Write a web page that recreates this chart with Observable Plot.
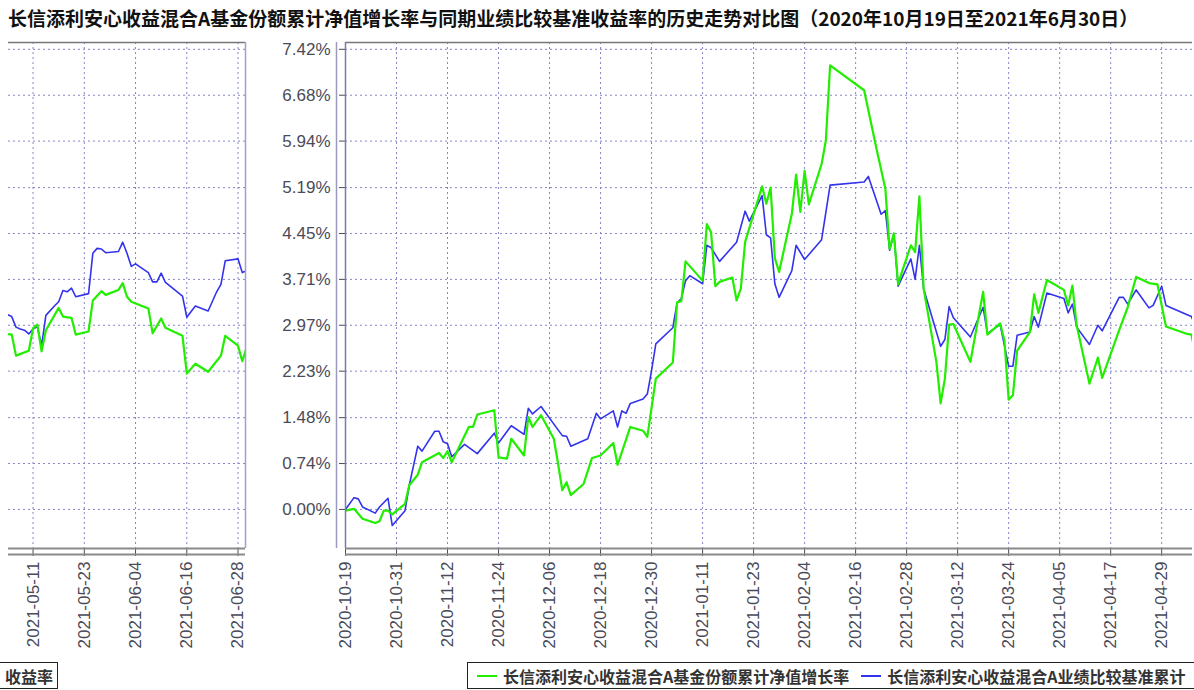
<!DOCTYPE html>
<html><head><meta charset="utf-8">
<script src="https://cdn.jsdelivr.net/npm/d3@7"></script>
<script src="https://cdn.jsdelivr.net/npm/@observablehq/plot@0.6"></script>
<style>
html,body{margin:0;padding:0;background:#fff;overflow:hidden;width:1194px;height:690px;}
#page{position:relative;width:1194px;height:690px;overflow:hidden;background:#fff;}
#title{position:absolute;left:8px;top:4px;white-space:nowrap;font:bold 19px "Noto Sans CJK SC";color:#111;}
#left{position:absolute;left:0;top:36px;}
#right{position:absolute;left:270px;top:36px;}
.legend{position:absolute;top:662px;height:27px;border:1.5px solid #222;box-sizing:border-box;font:bold 16px "Noto Sans CJK SC";color:#333;white-space:nowrap;display:flex;align-items:center;overflow:hidden;background:#fff;}
.sw{display:inline-block;width:20px;height:0;border-top:2px solid;margin:0 6px 0 9px;}
</style></head>
<body><div id="page">
<div id="title">长信添利安心收益混合A基金份额累计净值增长率与同期业绩比较基准收益率的历史走势对比图（2020年10月19日至2021年6月30日）</div>
<div id="left"></div>
<div id="right"></div>
<div class="legend" style="left:-12px;width:70px;justify-content:flex-end;padding-right:4px;">收益率</div>
<div class="legend" style="left:467px;width:800px;">
  <span class="sw" style="border-color:#22ee00"></span><span>长信添利安心收益混合A基金份额累计净值增长率</span>
  <span class="sw" style="border-color:#3333ee;margin-left:12px"></span><span>长信添利安心收益混合A业绩比较基准累计</span>
</div>
</div>
<script>
// ---- data ----
const yTicks = [0, 0.74, 1.48, 2.23, 2.97, 3.71, 4.45, 5.19, 5.94, 6.68, 7.42];
const rightTickLabels = ["2020-10-19","2020-10-31","2020-11-12","2020-11-24","2020-12-06","2020-12-18","2020-12-30","2021-01-11","2021-01-23","2021-02-04","2021-02-16","2021-02-28","2021-03-12","2021-03-24","2021-04-05","2021-04-17","2021-04-29"];
const leftTickLabels = ["2021-05-11","2021-05-23","2021-06-04","2021-06-16","2021-06-28"];

const fundDates = ["2020-10-19","2020-10-21","2020-10-23","2020-10-26","2020-10-27","2020-10-28","2020-10-29","2020-10-30","2020-11-02","2020-11-03","2020-11-05","2020-11-06","2020-11-10","2020-11-11","2020-11-12","2020-11-13","2020-11-17","2020-11-18","2020-11-19","2020-11-23","2020-11-24","2020-11-26","2020-11-27","2020-11-30","2020-12-01","2020-12-02","2020-12-04","2020-12-07","2020-12-08","2020-12-09","2020-12-10","2020-12-11","2020-12-14","2020-12-16","2020-12-18","2020-12-21","2020-12-22","2020-12-25","2020-12-28","2020-12-29","2020-12-31","2021-01-04","2021-01-05","2021-01-06","2021-01-07","2021-01-11","2021-01-12","2021-01-13","2021-01-14","2021-01-15","2021-01-18","2021-01-19","2021-01-20","2021-01-21","2021-01-25","2021-01-26","2021-01-27","2021-01-28","2021-01-29","2021-02-01","2021-02-02","2021-02-03","2021-02-04","2021-02-05","2021-02-08","2021-02-09","2021-02-10","2021-02-18","2021-02-21","2021-02-23","2021-02-24","2021-02-25","2021-02-26","2021-02-27","2021-03-01","2021-03-02","2021-03-03","2021-03-04","2021-03-07","2021-03-08","2021-03-09","2021-03-10","2021-03-11","2021-03-15","2021-03-18","2021-03-19","2021-03-22","2021-03-23","2021-03-24","2021-03-25","2021-03-26","2021-03-29","2021-03-30","2021-03-31","2021-04-02","2021-04-06","2021-04-07","2021-04-08","2021-04-09","2021-04-12","2021-04-14","2021-04-15","2021-04-19","2021-04-21","2021-04-23","2021-04-26","2021-04-28","2021-04-30","2021-05-05","2021-05-06","2021-05-07","2021-05-10","2021-05-11","2021-05-12","2021-05-13","2021-05-14","2021-05-17","2021-05-18","2021-05-20","2021-05-21","2021-05-24","2021-05-25","2021-05-27","2021-05-28","2021-05-31","2021-06-01","2021-06-02","2021-06-03","2021-06-07","2021-06-08","2021-06-10","2021-06-11","2021-06-15","2021-06-16","2021-06-18","2021-06-21","2021-06-24","2021-06-25","2021-06-28","2021-06-29","2021-06-30"];
const fundValues = [-0.02,0.01,-0.15,-0.22,-0.19,-0.02,-0.02,-0.08,0.09,0.39,0.56,0.76,0.91,0.83,0.94,0.76,1.33,1.33,1.53,1.60,0.84,0.82,1.14,0.87,1.49,1.33,1.52,1.14,0.74,0.31,0.44,0.23,0.41,0.83,0.87,1.07,0.72,1.33,1.27,1.17,2.11,2.37,3.34,3.36,4.00,3.69,4.60,4.47,3.60,3.67,3.74,3.37,3.56,4.31,5.21,4.93,5.19,4.05,3.83,4.77,5.40,4.80,5.46,4.92,5.57,5.95,7.16,6.76,5.79,5.17,4.20,4.45,3.63,3.85,4.26,4.15,5.05,3.56,2.38,1.71,2.11,2.98,2.99,2.38,3.51,2.82,3.00,2.73,1.77,1.84,2.56,2.86,3.47,3.17,3.70,3.54,3.29,3.61,2.97,2.03,2.45,2.12,2.89,3.26,3.75,3.65,3.63,2.95,2.83,2.82,2.48,2.56,2.92,2.98,2.55,2.89,3.25,3.11,3.09,2.82,2.87,3.37,3.52,3.46,3.54,3.65,3.43,3.35,3.24,2.84,3.08,2.93,2.80,2.19,2.35,2.22,2.48,2.80,2.64,2.39,2.61];

const benchDates = ["2020-10-19","2020-10-21","2020-10-22","2020-10-23","2020-10-26","2020-10-27","2020-10-29","2020-10-30","2020-11-02","2020-11-03","2020-11-05","2020-11-06","2020-11-09","2020-11-10","2020-11-11","2020-11-12","2020-11-13","2020-11-16","2020-11-19","2020-11-23","2020-11-24","2020-11-27","2020-11-30","2020-12-01","2020-12-02","2020-12-04","2020-12-09","2020-12-10","2020-12-11","2020-12-15","2020-12-17","2020-12-18","2020-12-21","2020-12-22","2020-12-23","2020-12-24","2020-12-25","2020-12-28","2020-12-29","2020-12-30","2020-12-31","2021-01-04","2021-01-05","2021-01-06","2021-01-07","2021-01-08","2021-01-11","2021-01-12","2021-01-13","2021-01-15","2021-01-19","2021-01-21","2021-01-22","2021-01-25","2021-01-26","2021-01-27","2021-01-28","2021-01-29","2021-02-01","2021-02-02","2021-02-04","2021-02-08","2021-02-10","2021-02-18","2021-02-19","2021-02-22","2021-02-23","2021-02-24","2021-02-25","2021-02-26","2021-03-01","2021-03-02","2021-03-03","2021-03-04","2021-03-08","2021-03-09","2021-03-10","2021-03-11","2021-03-15","2021-03-18","2021-03-19","2021-03-22","2021-03-24","2021-03-25","2021-03-26","2021-03-29","2021-03-30","2021-03-31","2021-04-02","2021-04-06","2021-04-07","2021-04-08","2021-04-09","2021-04-12","2021-04-14","2021-04-15","2021-04-19","2021-04-20","2021-04-21","2021-04-23","2021-04-26","2021-04-27","2021-04-29","2021-04-30","2021-05-05","2021-05-06","2021-05-07","2021-05-08","2021-05-09","2021-05-10","2021-05-11","2021-05-12","2021-05-13","2021-05-14","2021-05-16","2021-05-17","2021-05-18","2021-05-19","2021-05-20","2021-05-21","2021-05-24","2021-05-25","2021-05-26","2021-05-27","2021-05-28","2021-05-31","2021-06-01","2021-06-02","2021-06-03","2021-06-04","2021-06-07","2021-06-08","2021-06-09","2021-06-10","2021-06-11","2021-06-15","2021-06-16","2021-06-18","2021-06-21","2021-06-23","2021-06-24","2021-06-25","2021-06-28","2021-06-29","2021-06-30"];
const benchValues = [0.00,0.19,0.17,0.04,-0.06,0.04,0.18,-0.26,-0.02,0.39,1.02,0.94,1.26,1.26,1.09,1.06,0.85,1.05,0.90,1.23,1.07,1.35,1.21,1.63,1.54,1.66,1.19,1.18,1.02,1.14,1.55,1.46,1.59,1.33,1.59,1.55,1.71,1.78,1.86,2.24,2.67,2.93,3.33,3.40,3.69,3.77,3.64,4.26,4.22,4.00,4.31,4.81,4.65,5.06,4.43,4.38,3.64,3.42,3.85,4.26,4.03,4.35,5.23,5.28,5.37,4.76,4.82,4.18,4.45,3.60,4.04,3.71,4.26,3.56,2.63,2.74,3.27,3.09,2.78,3.26,2.84,2.98,2.31,2.31,2.81,2.86,3.11,2.94,3.49,3.40,3.17,3.31,2.94,2.66,2.97,2.88,3.42,3.42,3.31,3.54,3.25,3.29,3.60,3.29,3.14,3.11,2.94,2.91,2.89,2.83,2.91,2.95,2.64,3.13,3.28,3.35,3.53,3.51,3.57,3.43,3.48,4.13,4.21,4.20,4.14,4.16,4.31,4.13,3.92,3.96,3.82,3.67,3.67,3.81,3.66,3.44,3.10,3.28,3.20,3.51,3.63,4.01,4.04,3.82,3.85];

// ---- build ----
const fund = fundDates.map((d, i) => ({date: new Date(d), value: fundValues[i]}));
const bench = benchDates.map((d, i) => ({date: new Date(d), value: benchValues[i]}));
const yDomain = [-0.63, 7.53];
const GREEN = "#22ee00", BLUE = "#3333ee", GRID = "#8585c8", FRAME = "#8a8a8a", TEXT = "#4a4a58";
const fmt = d3.utcFormat("%Y-%m-%d");

function panel({width, marginLeft, marginRight, xDomain, tickLabels, showY}) {
  const ticks = tickLabels.map(s => new Date(s));
  const marks = [
    Plot.gridY(yTicks, {stroke: GRID, strokeOpacity: 1, strokeDasharray: "2,3"}),
    Plot.gridX(ticks, {stroke: GRID, strokeOpacity: 1, strokeDasharray: "2,3"}),
    Plot.lineY(bench, {x: "date", y: "value", stroke: BLUE, strokeWidth: 1.6, clip: true}),
    Plot.lineY(fund, {x: "date", y: "value", stroke: GREEN, strokeWidth: 2.2, clip: true}),
    Plot.axisX(ticks, {tickRotate: -90, tickSize: 8, tickPadding: 5, tickFormat: fmt, color: TEXT, fontSize: 17, label: null}),
    Plot.ruleY([yDomain[0]], {stroke: FRAME, strokeWidth: 2}),
    Plot.ruleY([yDomain[0]], {dy: 6, stroke: FRAME, strokeWidth: 2}),
    Plot.ruleY([yDomain[1]], {stroke: "#777", strokeWidth: 1.5})
  ];
  if (showY) {
    marks.push(
      Plot.axisY(yTicks, {tickSize: 6, tickPadding: 9, tickFormat: d => d.toFixed(2) + "%", color: TEXT, fontSize: 17, label: null}),
      Plot.ruleX([xDomain[0]], {stroke: "#7a7ab0", strokeWidth: 1.5}),
      Plot.ruleX([xDomain[0]], {dx: -9, stroke: "#9a9ac0", strokeWidth: 1.5})
    );
  } else {
    marks.push(Plot.ruleX([xDomain[1]], {stroke: "#a0a0d0", strokeWidth: 1.5}));
  }
  return Plot.plot({
    width, height: 620,
    marginTop: 6, marginBottom: 108, marginLeft, marginRight,
    x: {type: "utc", domain: xDomain, axis: null, label: null},
    y: {domain: yDomain, axis: null, label: null},
    style: {fontFamily: "Liberation Sans, Arial, sans-serif", fontSize: "17px", background: "transparent", overflow: "visible", color: TEXT},
    marks
  });
}

document.getElementById("left").append(panel({
  width: 255, marginLeft: 8, marginRight: 10,
  xDomain: [new Date(Date.UTC(2021, 4, 5, 6)), new Date(Date.UTC(2021, 5, 29, 18))],
  tickLabels: leftTickLabels, showY: false
}));
document.getElementById("right").append(panel({
  width: 922, marginLeft: 75, marginRight: 0,
  xDomain: [new Date(Date.UTC(2020, 9, 19)), new Date(Date.UTC(2021, 4, 6, 6))],
  tickLabels: rightTickLabels, showY: true
}));
</script>
</body></html>
